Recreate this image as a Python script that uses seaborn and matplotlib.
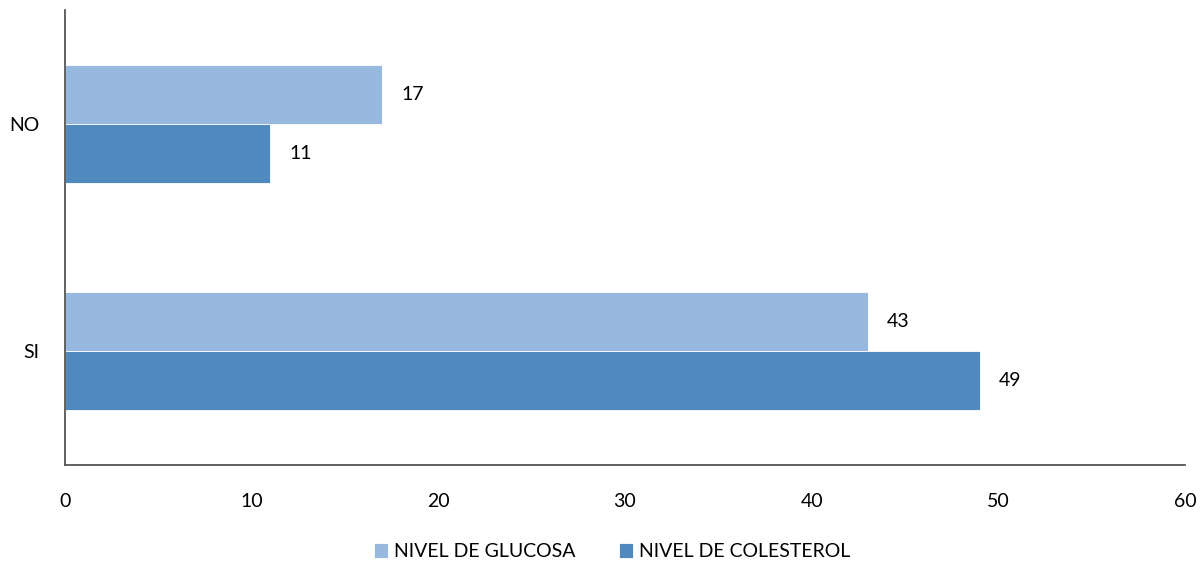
import matplotlib
matplotlib.use('Agg')
import matplotlib.pyplot as plt
import seaborn as sns
import pandas as pd

# Data
categorias = ['NO', 'SI']
glucosa = [17, 43]
colesterol = [11, 49]
series = ['NIVEL DE GLUCOSA', 'NIVEL DE COLESTEROL']
colores = ['#97B9E0', '#4F89BD']

df = pd.DataFrame({
    'Respuesta': categorias * 2,
    'Valor': glucosa + colesterol,
    'Serie': [series[0]] * len(categorias) + [series[1]] * len(categorias),
})

sns.set_style('white')
plt.rcParams['font.family'] = ['Lato', 'DejaVu Sans']

fig = plt.figure(figsize=(12, 5.62), dpi=100)
ax = fig.add_axes([0.054, 0.1726, 0.9335, 0.8094])

sns.barplot(data=df, x='Valor', y='Respuesta', hue='Serie', order=categorias,
            hue_order=series, palette=colores, saturation=1, orient='h',
            width=0.52, edgecolor='white', linewidth=0.6, ax=ax)

for cont in ax.containers:
    ax.bar_label(cont, padding=14, fontsize=14, color='black')

ax.set_xlim(0, 60)
ax.set_xticks(range(0, 61, 10))
ax.set_ylim(1.5, -0.5)
ax.set_xlabel('')
ax.set_ylabel('')
ax.tick_params(axis='both', length=0, labelsize=14, labelcolor='black')
ax.tick_params(axis='x', pad=20)
ax.tick_params(axis='y', pad=18)

for s in ['top', 'right']:
    ax.spines[s].set_visible(False)
for s in ['left', 'bottom']:
    ax.spines[s].set_color('#555555')
    ax.spines[s].set_linewidth(1.3)

handles, labels = ax.get_legend_handles_labels()
ax.legend_.remove()
fig.legend(handles, labels, loc='lower center', ncol=2, frameon=False,
           fontsize=14, bbox_to_anchor=(0.51, -0.028), handlelength=0.75,
           handleheight=0.75, handletextpad=0.3, columnspacing=2.2,
           labelcolor='black')

fig.savefig('out.png', dpi=100)
